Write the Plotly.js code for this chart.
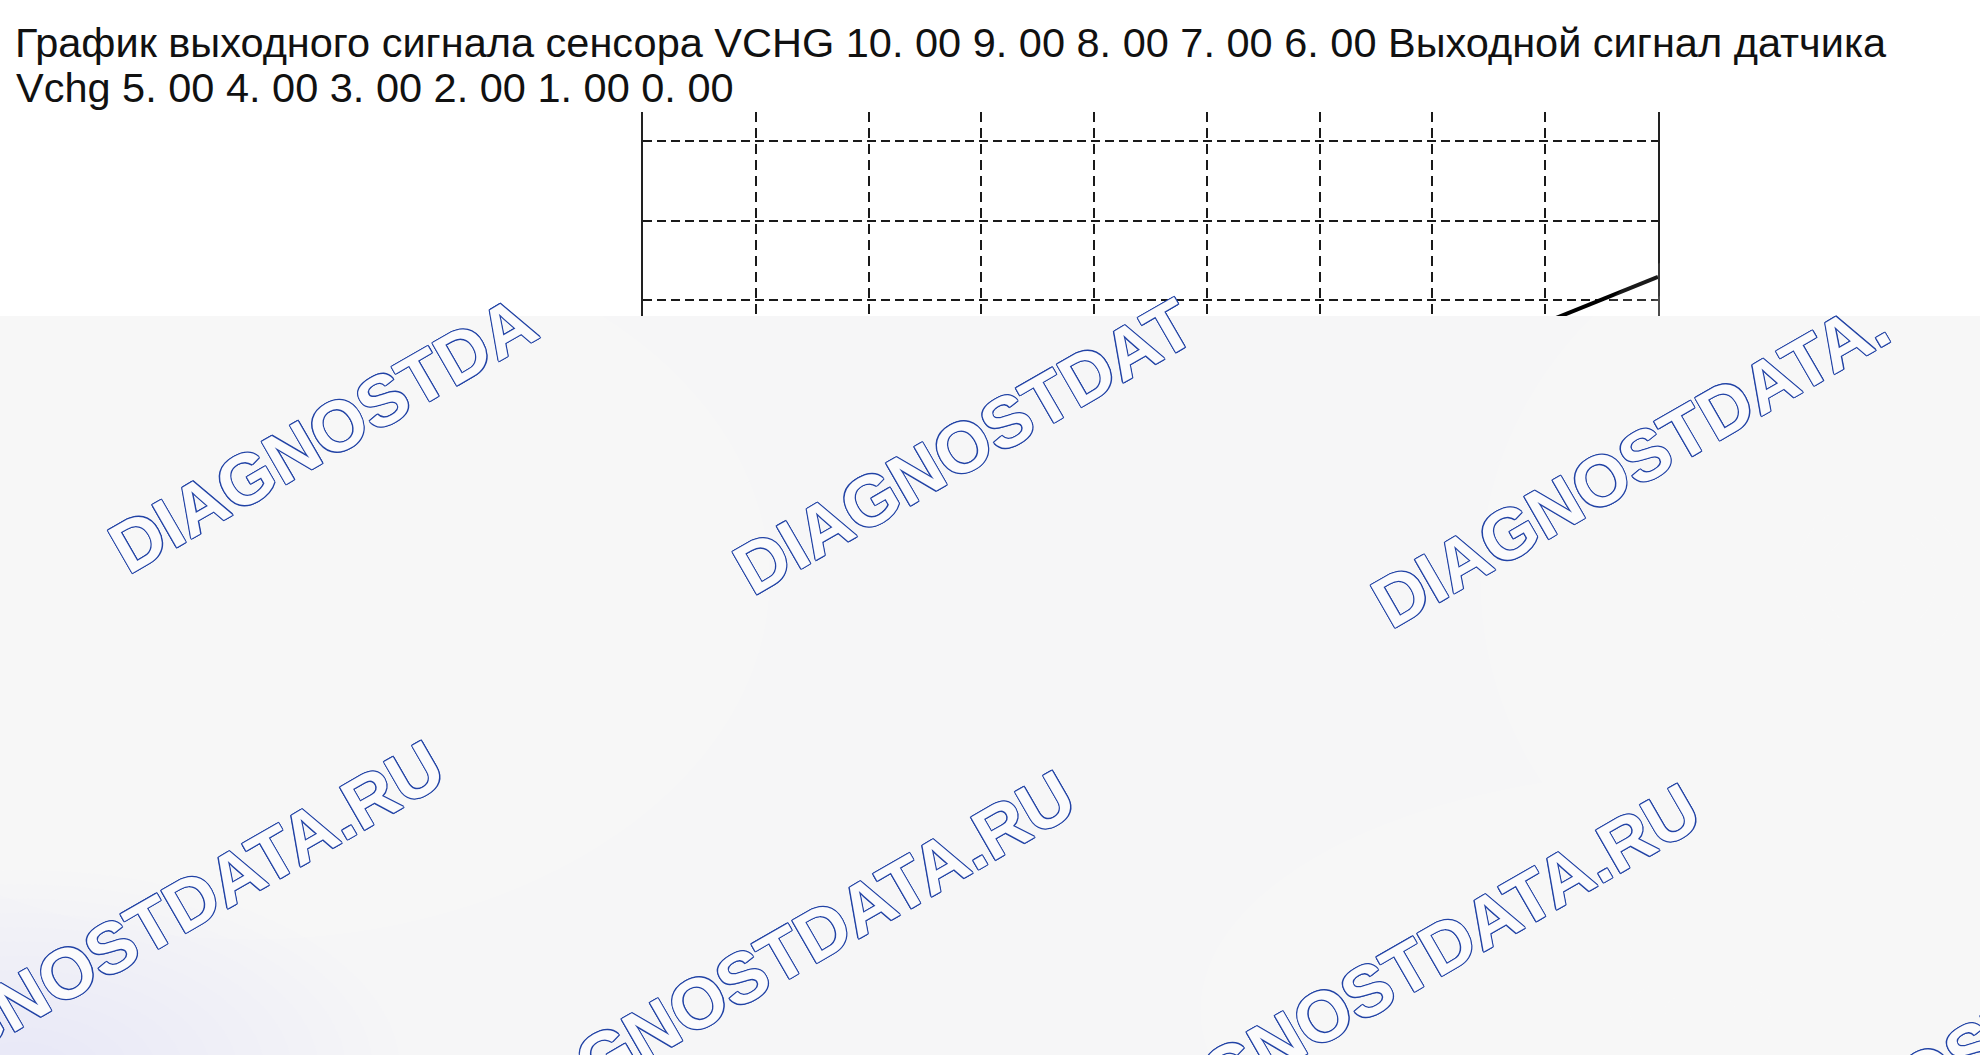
<!DOCTYPE html>
<html>
<head>
<meta charset="utf-8">
<script src="https://cdn.plot.ly/plotly-3.0.1.min.js"></script>
<style>
  html, body { margin: 0; padding: 0; background: #ffffff; }
  #chart { width: 1980px; height: 1055px; }
</style>
</head>
<body>
<div id="chart"></div>
<script>
/* График сигнала VCHG: видна только верхняя часть, ниже - плашка с водяными знаками. */

// данные
const signalX = [8, 9];
const signalY = [7.72, 8.29];
const titleLine1 = "График выходного сигнала сенсора VCHG 10. 00 9. 00 8. 00 7. 00 6. 00 Выходной сигнал датчика";
const titleLine2 = "Vchg 5. 00 4. 00 3. 00 2. 00 1. 00 0. 00";
const watermarkText = "DIAGNOSTDATA.RU";

// геометрия области построения (пиксели)
const W = 1980, H = 1055;
const plotL = 643, plotR = 1658, plotT = 112, plotB = 936;
const px = (x) => (x - plotL) / (plotR - plotL);
const py = (y) => (plotB - y) / (plotB - plotT);

const panelTop = 316;
const panelColor = "#f6f6f7";
const markFill = "#fbfbfc";
const markBlue = "#2344a6";

// ширины символов Liberation Sans Bold (доли кегля)
const glyphW = { D: 0.722, I: 0.278, A: 0.722, G: 0.778, N: 0.722, O: 0.778, S: 0.667, T: 0.611, ".": 0.278, R: 0.722, U: 0.722 };
const markSize = 71;
const markAngle = 30;

// начало базовой линии каждого знака и видимая часть текста
const marks = [
    { x: 128, y: 574, n: 10 },
    { x: 750, y: 597, n: 11 },
    { x: 1386, y: 632, n: 13 },
    { x: -148, y: 1124, n: 15 },
    { x: 483, y: 1154, n: 15 },
    { x: 1108, y: 1167, n: 15 },
    { x: 1712, y: 1226, n: 15 },
];

const outline = [
    "1px 0 0", "-1px 0 0", "0 1px 0", "0 -1px 0",
    "1px 1px 0", "-1px -1px 0", "1px -1px 0", "-1px 1px 0",
].map((s) => s + " " + markBlue).join(", ");

const a = markAngle * Math.PI / 180;
const watermarkAnnotations = marks.map((m) => {
    const text = watermarkText.slice(0, m.n);
    const len = text.split("").reduce((s, c) => s + glyphW[c], 0) * markSize;
    const h = 0.33 * markSize;
    const cx = m.x + (len / 2) * Math.cos(a) - h * Math.sin(a);
    const cy = m.y - (len / 2) * Math.sin(a) - h * Math.cos(a);
    return {
        text: text,
        xref: "paper", yref: "paper",
        x: px(cx), y: py(cy),
        xanchor: "center", yanchor: "middle",
        textangle: -markAngle,
        showarrow: false,
        font: {
            family: "Liberation Sans, Arial, sans-serif",
            size: markSize,
            weight: "bold",
            color: markFill,
            shadow: outline,
        },
    };
});

// мягкие пятна на плашке: много очень прозрачных эллипсов друг в друге
function blob(cx, cy, rx, ry, color, steps, opacity) {
    const out = [];
    for (let i = 0; i < steps; i++) {
        const k = 1 - i / steps;
        out.push({
            type: "circle",
            xref: "paper", yref: "paper",
            x0: px(cx - rx * k), x1: px(cx + rx * k),
            y0: py(cy + ry * k), y1: py(cy - ry * k),
            fillcolor: color,
            opacity: opacity,
            line: { width: 0 },
            layer: "above",
        });
    }
    return out;
}

const panelShapes = [
    {
        type: "rect",
        xref: "paper", yref: "paper",
        x0: px(0), x1: px(W), y0: py(H), y1: py(panelTop),
        fillcolor: panelColor,
        line: { width: 0 },
        layer: "above",
    },
]
    .concat(blob(250, 580, 520, 360, "#ffffff", 14, 0.1))
    .concat(blob(1880, 580, 400, 380, "#ffffff", 14, 0.1))
    .concat(blob(1700, 1010, 500, 240, "#ffffff", 14, 0.1))
    .concat(blob(20, 1070, 380, 200, "#e4e8f8", 14, 0.04));

const trace = {
    x: signalX,
    y: signalY,
    mode: "lines",
    line: { color: "#000000", width: 4 },
    hoverinfo: "skip",
    showlegend: false,
};

const textFont = { family: "Liberation Sans, Arial, sans-serif", size: 41.5, color: "#111111" };

const layout = {
    width: W,
    height: H,
    paper_bgcolor: "#ffffff",
    plot_bgcolor: "#ffffff",
    margin: { l: plotL, r: W - plotR, t: plotT, b: H - plotB, pad: 0 },
    showlegend: false,
    title: {
        text: titleLine1,
        font: textFont,
        xref: "container", yref: "container",
        x: 15 / W, y: 1 - 42 / H,
        xanchor: "left", yanchor: "middle",
    },
    xaxis: {
        range: [0, 9],
        dtick: 1,
        showgrid: true,
        gridcolor: "#1a1a1a",
        gridwidth: 2,
        griddash: "10px,6px",
        zeroline: false,
        showline: false,
        showticklabels: false,
        ticks: "",
    },
    yaxis: {
        range: [0, 10.365],
        dtick: 1,
        showgrid: true,
        gridcolor: "#1a1a1a",
        gridwidth: 2,
        griddash: "9px,5px",
        zeroline: false,
        showline: true,
        mirror: true,
        linecolor: "#222222",
        linewidth: 2,
        showticklabels: false,
        ticks: "",
    },
    shapes: panelShapes,
    annotations: [
        {
            text: titleLine2,
            xref: "paper", yref: "paper",
            x: px(14), y: py(87),
            xanchor: "left", yanchor: "middle",
            showarrow: false,
            font: textFont,
        },
    ].concat(watermarkAnnotations),
};

Plotly.newPlot("chart", [trace], layout, { displayModeBar: false, staticPlot: true });
</script>
</body>
</html>
